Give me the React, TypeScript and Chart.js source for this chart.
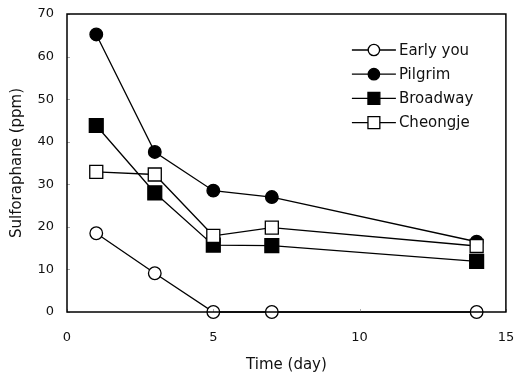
import React, { useEffect, useRef } from "react";
import { Chart, registerables } from "chart.js";

Chart.register(...registerables);

const days = [1, 3, 5, 7, 14];
const seriesNames = ["Early you", "Pilgrim", "Broadway", "Cheongje"];
const earlyYou = [18.5, 9.1, 0, 0, 0];
const pilgrim = [65.2, 37.6, 28.5, 27.0, 16.5];
const broadway = [43.8, 28.0, 15.7, 15.6, 11.9];
const cheongje = [32.9, 32.3, 17.9, 19.8, 15.5];
const xTicks = [0, 5, 10, 15];
const yTicks = [0, 10, 20, 30, 40, 50, 60, 70];

const FONT = "'DejaVu Sans', sans-serif";

const styles = [
  { pointStyle: "circle", fill: "#ffffff", radius: 6.3 },
  { pointStyle: "circle", fill: "#000000", radius: 6.3 },
  { pointStyle: "rect", fill: "#000000", radius: 9.8 },
  { pointStyle: "rect", fill: "#ffffff", radius: 9.2 },
];

function drawMarker(ctx: CanvasRenderingContext2D, style: string, x: number, y: number, r: number, fill: string) {
  ctx.beginPath();
  if (style === "circle") {
    ctx.arc(x, y, r, 0, Math.PI * 2);
  } else {
    const h = r * Math.SQRT1_2;
    ctx.rect(x - h, y - h, 2 * h, 2 * h);
  }
  ctx.fillStyle = fill;
  ctx.fill();
  ctx.lineWidth = 1.3;
  ctx.strokeStyle = "#000";
  ctx.stroke();
}

const framePlugin = {
  id: "frame",
  afterDraw(chart: any) {
    const { ctx, chartArea } = chart;
    const { left, right, top, bottom } = chartArea;
    ctx.save();
    ctx.strokeStyle = "#aaa";
    ctx.lineWidth = 1;
    const xs = chart.scales.x;
    const ys = chart.scales.y;
    yTicks.forEach((v) => {
      const py = Math.round(ys.getPixelForValue(v)) + 0.5;
      ctx.beginPath();
      ctx.moveTo(left, py);
      ctx.lineTo(left + 3, py);
      ctx.stroke();
    });
    xTicks.forEach((v) => {
      const px = Math.round(xs.getPixelForValue(v)) + 0.5;
      ctx.beginPath();
      ctx.moveTo(px, bottom);
      ctx.lineTo(px, bottom - 3);
      ctx.stroke();
    });
    ctx.strokeStyle = "#000";
    ctx.lineWidth = 1.5;
    ctx.strokeRect(left, top, right - left, bottom - top);
    const lx0 = right - 154;
    const lx1 = right - 110;
    const mx = right - 132;
    const tx = right - 107;
    ctx.font = "15px " + FONT;
    ctx.textBaseline = "middle";
    ctx.textAlign = "left";
    seriesNames.forEach((name, i) => {
      const y = top + 36 + i * 24.2;
      ctx.beginPath();
      ctx.moveTo(lx0, y);
      ctx.lineTo(lx1, y);
      ctx.strokeStyle = "#000";
      ctx.lineWidth = 1.3;
      ctx.stroke();
      const s = styles[i];
      drawMarker(ctx, s.pointStyle, mx, y, s.pointStyle === "circle" ? 5.7 : 8.4, s.fill);
      ctx.fillStyle = "#111";
      ctx.fillText(name, tx, y + 1);
    });
    ctx.restore();
  },
};

export default function App() {
  const ref = useRef<HTMLCanvasElement | null>(null);
  useEffect(() => {
    if (!ref.current) return;
    const all = [earlyYou, pilgrim, broadway, cheongje];
    const datasets = all.map((vals, i) => ({
      label: seriesNames[i],
      data: days.map((d, j) => ({ x: d, y: vals[j] })),
      borderColor: "#000",
      borderWidth: 1.3,
      pointStyle: styles[i].pointStyle,
      pointRadius: styles[i].radius,
      pointHoverRadius: styles[i].radius,
      pointBackgroundColor: styles[i].fill,
      pointBorderColor: "#000",
      pointBorderWidth: 1.3,
      showLine: true,
      fill: false,
      tension: 0,
      clip: false,
      order: 3 - i,
    }));
    const chart = new Chart(ref.current, {
      type: "line",
      data: { datasets } as any,
      options: {
        animation: false,
        responsive: false,
        maintainAspectRatio: false,
        layout: { padding: { left: 0, top: 14, right: 9, bottom: 0 } },
        plugins: { legend: { display: false }, tooltip: { enabled: false } },
        scales: {
          x: {
            type: "linear",
            min: 0,
            max: 15,
            afterBuildTicks: (s: any) => {
              s.ticks = xTicks.map((v) => ({ value: v }));
            },
            afterFit: (s: any) => {
              s.height = 63;
              s.paddingLeft = 0;
              s.paddingRight = 0;
            },
            grid: { display: false, drawTicks: false },
            border: { display: false },
            ticks: { padding: 18, color: "#111", font: { family: FONT, size: 13 }, maxRotation: 0 },
            title: {
              display: true,
              text: "Time (day)",
              color: "#111",
              font: { family: FONT, size: 15 },
              padding: { top: 0, bottom: 1 },
            },
          },
          y: {
            type: "linear",
            min: 0,
            max: 70,
            afterBuildTicks: (s: any) => {
              s.ticks = yTicks.map((v) => ({ value: v }));
            },
            afterFit: (s: any) => {
              s.width = 67;
              s.paddingTop = 0;
              s.paddingBottom = 0;
            },
            grid: { display: false, drawTicks: false },
            border: { display: false },
            ticks: { padding: 13, color: "#111", font: { family: FONT, size: 13 } },
            title: {
              display: true,
              text: "Sulforaphane (ppm)",
              color: "#111",
              font: { family: FONT, size: 15 },
              padding: { top: 8, bottom: 0 },
            },
          },
        },
      },
      plugins: [framePlugin],
    } as any);
    return () => chart.destroy();
  }, []);
  return (
    <div style={{ position: "fixed", left: 0, top: 0, width: 517, height: 375, background: "#fff" }}>
      <canvas ref={ref} width={517} height={375} style={{ display: "block", width: 517, height: 375 }} />
    </div>
  );
}
